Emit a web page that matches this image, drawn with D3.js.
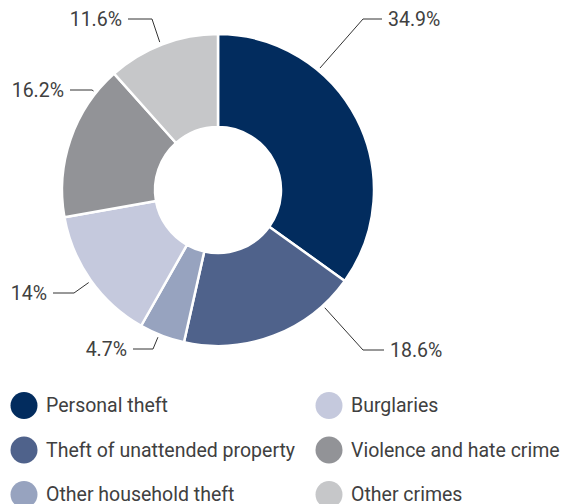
<!DOCTYPE html>
<html><head><meta charset="utf-8">
<script src="https://cdn.jsdelivr.net/npm/d3@7/dist/d3.min.js"></script>
<style>body{margin:0;background:#fff}svg{display:block}</style>
</head><body>
<svg id="c" width="563" height="504"></svg>
<script>
const categories = ["Personal theft","Theft of unattended property","Other household theft","Burglaries","Violence and hate crime","Other crimes"];
const values = [34.9, 18.6, 4.7, 14, 16.2, 11.6];
const labels = ["34.9%","18.6%","4.7%","14%","16.2%","11.6%"];
const colors = ["#022c5e","#4f628b","#97a3bf","#c5c9dd","#929397","#c6c7c9"];

// leader layout: anchor angle (deg, clockwise from top), elbow point, end x, side
const leaders = [
  {ang:39.9, ex:363, ey:19, hx:382, side:"r"},
  {ang:137.8, ex:363, ey:350, hx:384, side:"r"},
  {ang:202.2, ex:153, ey:349, hx:133, side:"l"},
  {ang:234.4, ex:74, ey:293, hx:53, side:"l"},
  {ang:308.5, ex:92, ey:90, hx:70, side:"l"},
  {ang:338.5, ex:152, ey:19, hx:128, side:"l"}
];

const svg = d3.select("#c");
const cx = 218, cy = 190, R = 156, r0 = 63;
const g = svg.append("g").attr("transform", `translate(${cx},${cy})`);
const pie = d3.pie().sort(null).value(d => d)(values);
const arc = d3.arc().innerRadius(r0).outerRadius(R);
g.selectAll("path").data(pie).join("path")
  .attr("d", arc).attr("fill", (d,i) => colors[i])
  .attr("stroke", "#fff").attr("stroke-width", 2.5).attr("stroke-linejoin","round");

const font = "Roboto, sans-serif";
leaders.forEach((L, i) => {
  const a = L.ang * Math.PI / 180, rr = R + 3;
  const sx = cx + rr * Math.sin(a), sy = cy - rr * Math.cos(a);
  svg.append("polyline")
    .attr("points", `${sx},${sy} ${L.ex},${L.ey} ${L.hx},${L.ey}`)
    .attr("fill", "none").attr("stroke", "#333").attr("stroke-width", 1);
  svg.append("text")
    .attr("x", L.side === "r" ? L.hx + 6 : L.hx - 6)
    .attr("y", L.ey).attr("dy", "0.35em")
    .attr("text-anchor", L.side === "r" ? "start" : "end")
    .attr("font-family", font).attr("font-size", 19.5).attr("font-weight", 400)
    .attr("fill", "#404040").text(labels[i]);
});

const lg = svg.append("g");
const colX = [24, 329], rowY = [405.5, 450, 494.5];
categories.forEach((c, i) => {
  const col = Math.floor(i / 3), row = i % 3;
  lg.append("circle").attr("cx", colX[col]).attr("cy", rowY[row]).attr("r", 13.5).attr("fill", colors[i]);
  lg.append("text").attr("x", colX[col] + 22).attr("y", rowY[row]).attr("dy", "0.35em")
    .attr("font-family", font).attr("font-size", 19.5).attr("font-weight", 400)
    .attr("fill", "#404040").text(c);
});
</script>
</body></html>
